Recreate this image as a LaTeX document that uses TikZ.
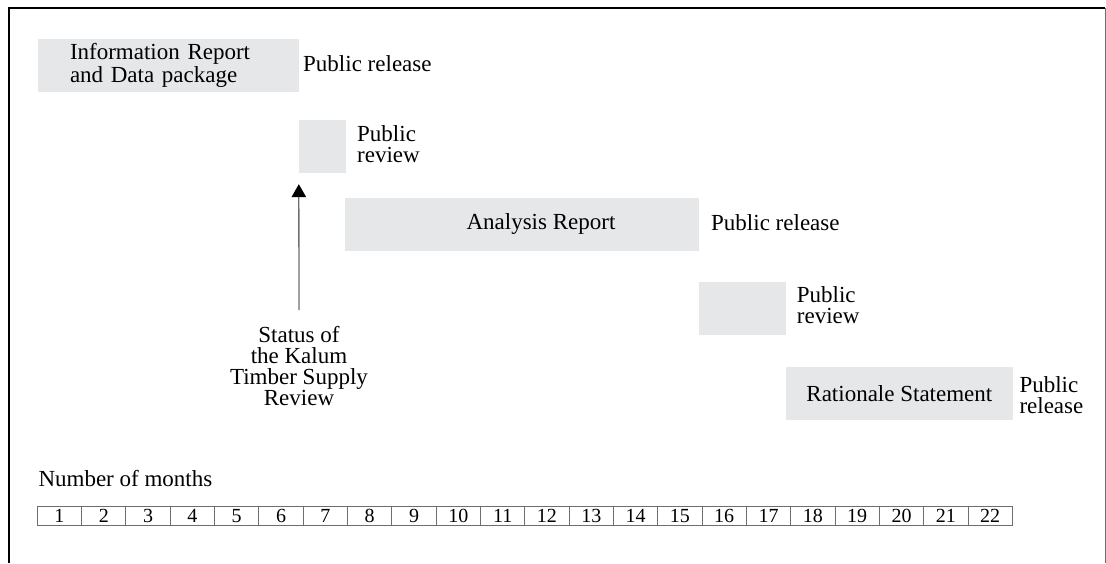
\documentclass[tikz,border=0pt]{standalone}
\usepackage{fontspec}
\setmainfont{Liberation Serif}
\usetikzlibrary{arrows.meta}
\definecolor{boxgray}{HTML}{E6E7E8}
\definecolor{linegray}{HTML}{6E6E6E}
\begin{document}
\begin{tikzpicture}[x=1pt,y=-1pt,
  bar/.style={fill=boxgray, draw=none, inner sep=0pt, font=\fontsize{23}{22.3}\selectfont},
  lbl/.style={inner sep=0pt, font=\fontsize{23}{21}\selectfont, align=left},
  cell/.style={draw=linegray, line width=0.9pt, minimum width=44.318pt, minimum height=19.3pt, inner sep=0pt, font=\fontsize{20}{20}\selectfont},
  pointer/.style={draw=linegray, line width=1.3pt, -{Triangle[length=13pt,width=14.5pt,color=black]}}
]
\useasboundingbox (0,0) rectangle (1106,563);
% frame
\draw[black, line width=1.5pt] (9,563) -- (9,8) -- (1105,8);
\draw[linegray, line width=1pt] (1105,8) -- (1105,563);
% bars
\node[bar, text width=197pt, inner xsep=32pt, minimum height=53pt, align=left] (info) at (168.5,65.5) {Information Report\\and Data package};
\node[bar, minimum width=46.7pt, minimum height=52.7pt] (pr1) at (322.35,146.35) {};
\node[bar, minimum width=354pt, minimum height=53pt] (ana) at (522,224.2) {\hspace*{38pt}Analysis Report};
\node[bar, minimum width=87pt, minimum height=53.3pt] (pr2) at (742.5,308.35) {};
\node[bar, minimum width=226.7pt, minimum height=52.7pt] (rat) at (899.35,393.65) {Rationale Statement};
% labels
\node[lbl, anchor=base west] (rel1) at (303,71.7) {Public release};
\node[lbl, anchor=west] (rev1) at (357,144.3) {Public\\review};
\node[lbl, anchor=base west] (rel2) at (711,230) {Public release};
\node[lbl, anchor=west] (rev2) at (796.7,305.5) {Public\\review};
\node[lbl, anchor=west] (rel3) at (1019.3,395.1) {Public\\release};
\node[inner sep=0pt, anchor=north, align=center, font=\fontsize{23}{21}\selectfont] (status) at (299,326.5) {Status of\\the Kalum\\Timber Supply\\Review};
\draw[pointer, shorten <=16.5pt, shorten >=11.3pt] (status.north) -- (pr1.south west);
% timeline
\node[inner sep=0pt, anchor=base west, font=\fontsize{23}{22}\selectfont] (nom) at (38.3,486.7) {Number of months};
\foreach \i in {1,...,22}
  \node[cell] (m\i) at ({37.3+44.318*(\i-0.5)},516) {\i};
\end{tikzpicture}
\end{document}
